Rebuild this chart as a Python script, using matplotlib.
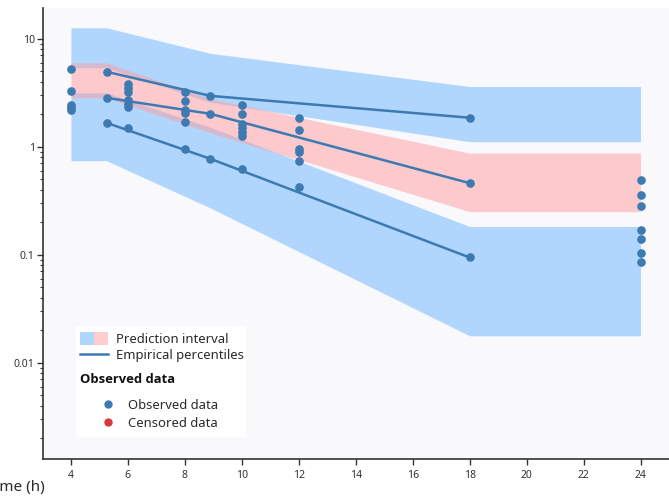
import numpy as np
import matplotlib
matplotlib.use("Agg")
import matplotlib.pyplot as plt
from matplotlib.patches import Patch, Rectangle
from matplotlib.lines import Line2D
from matplotlib.legend_handler import HandlerTuple, HandlerLine2D
from matplotlib.ticker import LogLocator, NullFormatter, FixedLocator

plt.rcParams['font.family'] = ['Noto Sans', 'DejaVu Sans']

# Observed concentrations, grouped by sampling time (h)
obs_t4 = [5.25, 3.29, 2.44, 2.29, 2.19]
obs_t6 = [3.81, 3.50, 3.22, 2.71, 2.49, 2.34, 1.49]
obs_t8 = [3.22, 2.66, 2.19, 2.06, 1.70, 0.95]
obs_t10 = [2.44, 2.01, 1.63, 1.49, 1.37, 1.26, 0.62]
obs_t12 = [1.85, 1.43, 0.95, 0.90, 0.74, 0.42]
obs_t24 = [0.493, 0.358, 0.279, 0.170, 0.139, 0.103, 0.086]
obs_times = [4, 6, 8, 10, 12, 24]
obs_groups = [obs_t4, obs_t6, obs_t8, obs_t10, obs_t12, obs_t24]

# Empirical percentiles at bin centres
bin_centers = [5.25, 8.9, 18]
emp_p90 = [4.93, 2.95, 1.85]
emp_p50 = [2.83, 2.01, 0.459]
emp_p10 = [1.66, 0.77, 0.094]

# Prediction intervals of the percentiles
pi_time = [4, 5.25, 8.9, 18, 24]
pi90_hi = [12.6, 12.6, 7.3, 3.6, 3.6]
pi90_lo = [5.37, 5.37, 2.57, 1.11, 1.11]
pi50_hi = [5.97, 5.97, 2.77, 0.87, 0.87]
pi50_lo = [2.83, 2.83, 1.34, 0.25, 0.25]
pi10_hi = [3.15, 3.15, 1.51, 0.182, 0.182]
pi10_lo = [0.74, 0.74, 0.27, 0.0177, 0.0177]

x_ticks = [4, 6, 8, 10, 12, 14, 16, 18, 20, 22, 24]
y_ticks = [0.01, 0.1, 1, 10]
y_ticklabels = ['0.01', '0.1', '1', '10']

BLUE_BAND = '#b0d6fd'
PINK_BAND = '#ff9d9f'
PINK_ALPHA = 0.5
LINE_C = '#3d7ab2'
CENS_C = '#d9373a'
PANEL = '#f9f9fc'
TEXT_C = '#2a2a2a'

W, H = 669, 497
fig = plt.figure(figsize=(W / 100, H / 100), dpi=100)
fig.patch.set_facecolor('white')
ax = fig.add_axes([43 / W, 38 / H, 626 / W, 451 / H])
ax.set_facecolor(PANEL)

ax.fill_between(pi_time, pi90_lo, pi90_hi, color=BLUE_BAND, lw=0, zorder=1)
ax.fill_between(pi_time, pi10_lo, pi10_hi, color=BLUE_BAND, lw=0, zorder=1)
ax.fill_between(pi_time, pi50_lo, pi50_hi, color=PINK_BAND, alpha=PINK_ALPHA, lw=0, zorder=2)

for series in (emp_p90, emp_p50, emp_p10):
    ax.plot(bin_centers, series, color=LINE_C, lw=1.8, marker='o', ms=5.2,
            mec=LINE_C, mfc=LINE_C, zorder=3)

for t, vals in zip(obs_times, obs_groups):
    ax.plot([t] * len(vals), vals, ls='none', marker='o', ms=5.2,
            mfc=LINE_C, mec=LINE_C, zorder=4)

ax.set_yscale('log')
ax.set_xlim(3.02, 25.0)
ax.set_ylim(0.00128, 19.2)
ax.yaxis.set_major_locator(FixedLocator(y_ticks))
ax.set_yticklabels(y_ticklabels)
ax.yaxis.set_minor_locator(LogLocator(base=10, subs=np.arange(2, 10)))
ax.yaxis.set_minor_formatter(NullFormatter())
ax.set_xticks(x_ticks)
ax.set_xticklabels([str(v) for v in x_ticks])

for side in ('top', 'right'):
    ax.spines[side].set_visible(False)
for side in ('left', 'bottom'):
    ax.spines[side].set_color('#333333')
    ax.spines[side].set_linewidth(1.2)
ax.tick_params(axis='both', which='major', direction='out', length=4, width=1,
               color='#333333', labelsize=7.5, labelcolor='#333333', pad=2)
ax.tick_params(axis='y', which='minor', direction='out', length=2.5, width=0.8,
               color='#333333')
ax.tick_params(axis='x', which='major', pad=4)

# Axis title sits at the lower-left corner, running off the left edge
fig.text(45 / W, 1 - 488 / H, 'Time (h)', ha='right', va='center',
         fontsize=11, color=TEXT_C)

# Legend: white box holding stacked legend blocks
fs = 9.4
fs_px = fs * 100 / 72
ax.add_patch(Rectangle((76 / W, 1 - 437 / H), (246 - 76) / W, (437 - 326) / H,
                       transform=fig.transFigure, facecolor='white',
                       edgecolor='none', zorder=4.5, clip_on=False))

common = dict(frameon=False, fontsize=fs, borderpad=0, borderaxespad=0,
              bbox_transform=fig.transFigure, labelcolor=TEXT_C)

h_pi = (Patch(facecolor=BLUE_BAND, edgecolor='none'),
        Patch(facecolor=PINK_BAND, alpha=PINK_ALPHA, edgecolor='none'))
h_emp = Line2D([], [], color=LINE_C, lw=1.8)
leg1 = ax.legend([h_pi, h_emp], ['Prediction interval', 'Empirical percentiles'],
                 handler_map={tuple: HandlerTuple(ndivide=None, pad=0)},
                 loc='center left', bbox_to_anchor=(80 / W, 1 - 347 / H),
                 handlelength=28 / fs_px, handleheight=1.2,
                 handletextpad=8 / fs_px, labelspacing=0.2, **common)
ax.add_artist(leg1)

leg_title = ax.legend([], [], title='Observed data', alignment='left',
                      loc='center left', bbox_to_anchor=(80 / W, 1 - 383 / H),
                      **common)
leg_title.get_title().set_fontsize(fs)
leg_title.get_title().set_fontweight('bold')
leg_title.get_title().set_fontfamily(['Open Sans', 'Lato', 'DejaVu Sans'])
leg_title.get_title().set_color('#111111')
ax.add_artist(leg_title)

h_obs = Line2D([], [], ls='none', marker='o', ms=5, mfc=LINE_C, mec=LINE_C)
h_cens = Line2D([], [], ls='none', marker='o', ms=5, mfc=CENS_C, mec=CENS_C)
leg2 = ax.legend([h_obs, h_cens], ['Observed data', 'Censored data'],
                 handler_map={Line2D: HandlerLine2D(numpoints=1)},
                 loc='center left', bbox_to_anchor=(96 / W, 1 - 414.5 / H),
                 handlelength=24 / fs_px, handletextpad=8 / fs_px,
                 labelspacing=0.38, **common)

fig.savefig('out.png', dpi=100, facecolor='white')
